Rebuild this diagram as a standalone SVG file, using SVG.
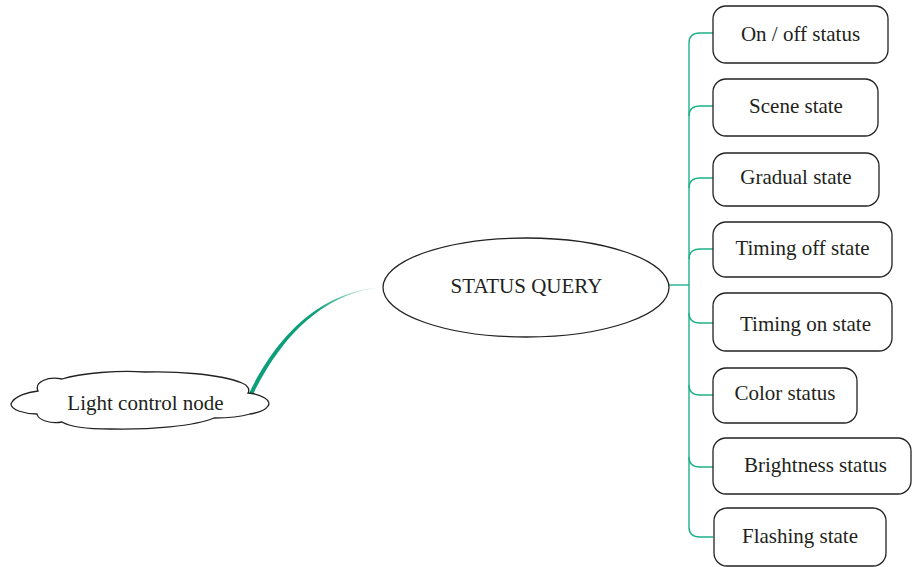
<svg xmlns="http://www.w3.org/2000/svg" width="912" height="567" viewBox="0 0 912 567">
  <defs>
    <linearGradient id="linkFade" gradientUnits="userSpaceOnUse" x1="250" y1="395" x2="384" y2="287">
      <stop offset="0" stop-color="#0c9f7a"/>
      <stop offset="0.62" stop-color="#0c9f7a"/>
      <stop offset="1" stop-color="#0c9f7a" stop-opacity="0"/>
    </linearGradient>
  </defs>
  <style>
    .box { fill: #ffffff; stroke: #222222; stroke-width: 1.3; }
    .label { font-family: "Liberation Serif", "Times New Roman", serif; font-size: 21px; fill: #231f20; text-anchor: middle; }
    .branch { fill: none; stroke: #1fb08a; stroke-width: 1.4; }
  </style>

  <rect width="912" height="567" fill="#ffffff"/>

  <!-- connectors -->
  <g id="connectors">
    <!-- tapered link from the light control node to the query ellipse -->
    <path d="M249.2,393.1 C268,354 309,291 384,287 C311,293 272,356 252.8,394.9 Z" fill="url(#linkFade)"/>
    <!-- trunk and branches -->
    <path class="branch" d="M669,285 H689"/>
    <path class="branch" d="M689,43 V527"/>
    <path class="branch" d="M689,43 C689,37 692,33 700,33 H713"/>
    <path class="branch" d="M689,116 C689,110 692,106 700,106 H713"/>
    <path class="branch" d="M689,188 C689,182 692,178 700,178 H713"/>
    <path class="branch" d="M689,259 C689,253 692,249 700,249 H713"/>
    <path class="branch" d="M689,313 C689,319 692,323 700,323 H713"/>
    <path class="branch" d="M689,385 C689,391 692,395 700,395 H713"/>
    <path class="branch" d="M689,457 C689,463 692,467 700,467 H713"/>
    <path class="branch" d="M689,527 C689,533 692,537 700,537 H713"/>
  </g>

  <!-- cloud node -->
  <g id="light-control-node">
    <path d="M11,404 C14,396 28,392 38,391 C34,382 48,376 62,379 C80,373 120,370 145,372 C175,371 220,374 242,383 C248,385 250,390 248,393 C262,394 272,401 268,406 C265,411 256,413 250,414 C240,417 228,418 214,418 C195,426 150,430 110,429 C85,429 70,427 62,422 C50,424 38,420 37,414 C25,414 11,410 11,404 Z" fill="#ffffff" stroke="#222222" stroke-width="1.3"/>
    <text class="label" x="145.5" y="410">Light control node</text>
  </g>

  <!-- central ellipse -->
  <g id="status-query">
    <ellipse cx="526" cy="287.5" rx="143" ry="49.5" fill="#ffffff" stroke="#222222" stroke-width="1.3"/>
    <text class="label" x="526.5" y="293">STATUS QUERY</text>
  </g>

  <!-- state boxes -->
  <g id="on-off-status">
    <rect class="box" x="713" y="6" width="175" height="57" rx="13"/>
    <text class="label" x="800.5" y="41">On / off status</text>
  </g>
  <g id="scene-state">
    <rect class="box" x="713" y="79" width="165" height="57" rx="13"/>
    <text class="label" x="796" y="113">Scene state</text>
  </g>
  <g id="gradual-state">
    <rect class="box" x="713" y="153" width="166" height="53" rx="13"/>
    <text class="label" x="796" y="184">Gradual state</text>
  </g>
  <g id="timing-off-state">
    <rect class="box" x="713" y="222" width="179" height="55" rx="13"/>
    <text class="label" x="802.5" y="255">Timing off state</text>
  </g>
  <g id="timing-on-state">
    <rect class="box" x="713" y="293" width="179" height="58" rx="13"/>
    <text class="label" x="805.5" y="331">Timing on state</text>
  </g>
  <g id="color-status">
    <rect class="box" x="713" y="368" width="144" height="55" rx="13"/>
    <text class="label" x="785" y="400">Color status</text>
  </g>
  <g id="brightness-status">
    <rect class="box" x="713" y="438" width="198" height="56" rx="13"/>
    <text class="label" x="815.5" y="472">Brightness status</text>
  </g>
  <g id="flashing-state">
    <rect class="box" x="714" y="508" width="172" height="58" rx="13"/>
    <text class="label" x="800" y="543">Flashing state</text>
  </g>
</svg>
